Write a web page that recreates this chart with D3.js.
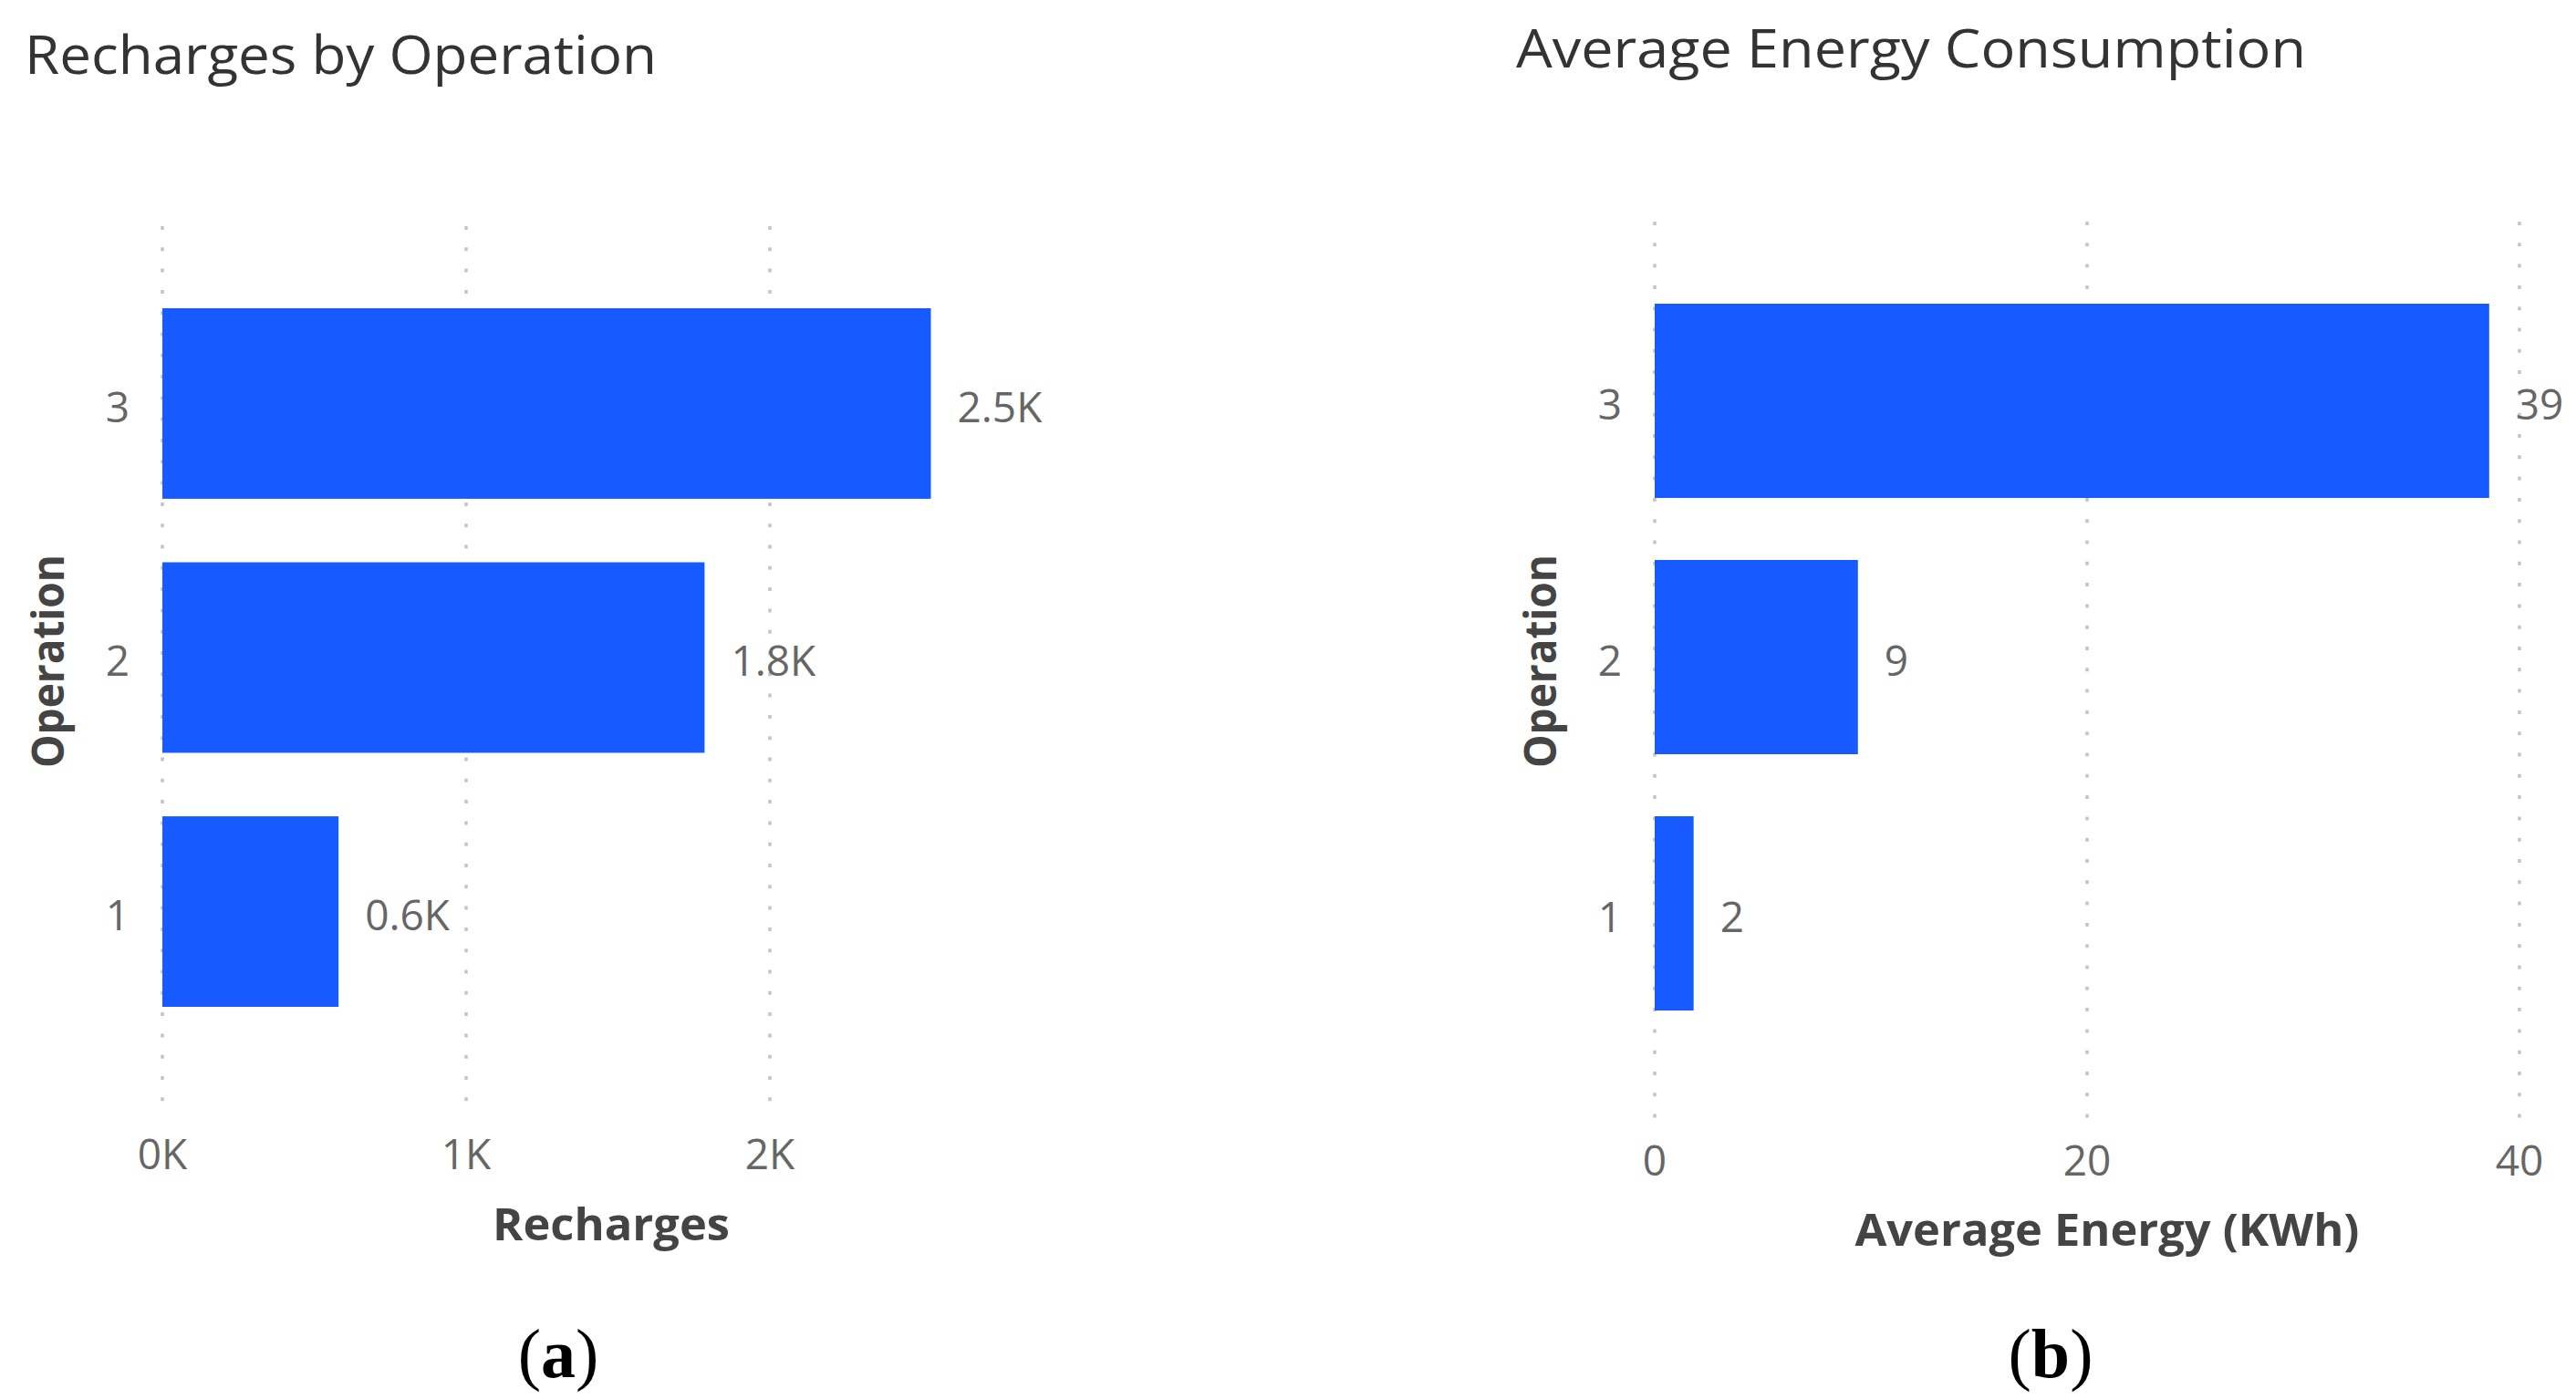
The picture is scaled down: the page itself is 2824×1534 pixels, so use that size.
<!DOCTYPE html>
<html>
<head>
<meta charset="utf-8">
<script src="https://cdn.jsdelivr.net/npm/d3@7"></script>
<style>
  body { margin: 0; background: #fff; }
  svg text { font-family: "Open Sans", "Noto Sans", sans-serif; }
</style>
</head>
<body>
<div id="chart"></div>
<script>
// ------------------------------------------------------------------
// data
const operations = ["3", "2", "1"]
const recharges = [2530, 1785, 580]
const avgEnergy = [38.6, 9.4, 1.8]
const rechargeTicks = [0, 1000, 2000]
const energyTicks = [0, 20, 40]

const W = 2824, H = 1534
const blue = "#175AFF"

const svg = d3.select("#chart").append("svg")
    .attr("width", W)
    .attr("height", H)

// ------------------------------------------------------------------
function bar_panel (opt)
{
const x = d3.scaleLinear()
    .domain([0, opt.ticks[opt.ticks.length - 1]])
    .range([opt.x0, opt.x1])

const y = d3.scaleBand()
    .domain(operations)
    .range([opt.yTop, opt.yBot])
    .paddingInner(opt.pad)

const g = svg.append("g")

// title
g.append("text")
    .attr("x", opt.titleX)
    .attr("y", opt.titleY)
    .attr("font-size", 58)
    .attr("fill", "#333")
    .attr("textLength", opt.titleLen)
    .attr("lengthAdjust", "spacingAndGlyphs")
    .text(opt.title)

// dotted grid lines
g.selectAll(".grid")
    .data(opt.ticks)
  .enter().append("line")
    .attr("x1", d => x(d))
    .attr("x2", d => x(d))
    .attr("y1", opt.gridTop)
    .attr("y2", opt.gridBot)
    .attr("stroke", "#c4c4c4")
    .attr("stroke-width", 3.5)
    .attr("stroke-dasharray", "4,19.3")

// x tick labels
g.selectAll(".xtick")
    .data(opt.ticks)
  .enter().append("text")
    .attr("x", d => x(d))
    .attr("y", opt.tickY)
    .attr("text-anchor", "middle")
    .attr("font-size", 46)
    .attr("fill", "#666")
    .text(opt.tickFmt)

// bars
g.selectAll(".bar")
    .data(opt.values)
  .enter().append("rect")
    .attr("x", x(0))
    .attr("y", (d, i) => y(operations[i]))
    .attr("width", d => x(d) - x(0))
    .attr("height", y.bandwidth())
    .attr("fill", blue)

// value labels
g.selectAll(".val")
    .data(opt.values)
  .enter().append("text")
    .attr("x", d => x(d) + 29)
    .attr("y", (d, i) => y(operations[i]) + y.bandwidth() / 2)
    .attr("dy", "0.44em")
    .attr("font-size", 46)
    .attr("fill", "#666")
    .text(opt.valFmt)

// category labels
g.selectAll(".cat")
    .data(operations)
  .enter().append("text")
    .attr("x", opt.x0 - 36)
    .attr("y", d => y(d) + y.bandwidth() / 2)
    .attr("dy", "0.44em")
    .attr("text-anchor", "end")
    .attr("font-size", 46)
    .attr("fill", "#666")
    .text(d => d)

// axis titles
g.append("text")
    .attr("transform", "translate(" + (opt.x0 - 108) + ",725) rotate(-90)")
    .attr("text-anchor", "middle")
    .attr("font-size", 48)
    .attr("font-weight", "bold")
    .attr("fill", "#444")
    .attr("textLength", 234)
    .attr("lengthAdjust", "spacingAndGlyphs")
    .text("Operation")

g.append("text")
    .attr("x", opt.xTitleX)
    .attr("y", opt.xTitleY)
    .attr("text-anchor", "middle")
    .attr("font-size", 48)
    .attr("font-weight", "bold")
    .attr("fill", "#444")
    .attr("textLength", opt.xTitleLen)
    .attr("lengthAdjust", "spacingAndGlyphs")
    .text(opt.xTitle)

// caption
const cap = g.append("text")
    .attr("x", opt.capX)
    .attr("y", 1510)
    .attr("text-anchor", "middle")
    .attr("font-size", 76)
    .attr("fill", "#000")
    .style("font-family", "'Liberation Serif', 'DejaVu Serif', serif")
cap.append("tspan").text("(")
cap.append("tspan").attr("font-weight", "bold").text(opt.cap)
cap.append("tspan").text(")")
}

// ------------------------------------------------------------------
bar_panel({
  title: "Recharges by Operation", titleX: 27, titleY: 81, titleLen: 693,
  values: recharges, ticks: rechargeTicks,
  tickFmt: d => (d / 1000) + "K",
  valFmt: d => d3.format(".1f")(d / 1000) + "K",
  x0: 178, x1: 844, yTop: 338, yBot: 1104, pad: 0.25,
  gridTop: 248, gridBot: 1225, tickY: 1282,
  xTitle: "Recharges", xTitleX: 670, xTitleY: 1360, xTitleLen: 260,
  cap: "a", capX: 612
})

bar_panel({
  title: "Average Energy Consumption", titleX: 1662, titleY: 74, titleLen: 866,
  values: avgEnergy, ticks: energyTicks,
  tickFmt: d => d,
  valFmt: d => d3.format(".0f")(d),
  x0: 1814, x1: 2762, yTop: 333, yBot: 1108, pad: 0.242,
  gridTop: 243, gridBot: 1230, tickY: 1289,
  xTitle: "Average Energy (KWh)", xTitleX: 2310, xTitleY: 1366, xTitleLen: 553,
  cap: "b", capX: 2248
})
</script>
</body>
</html>
